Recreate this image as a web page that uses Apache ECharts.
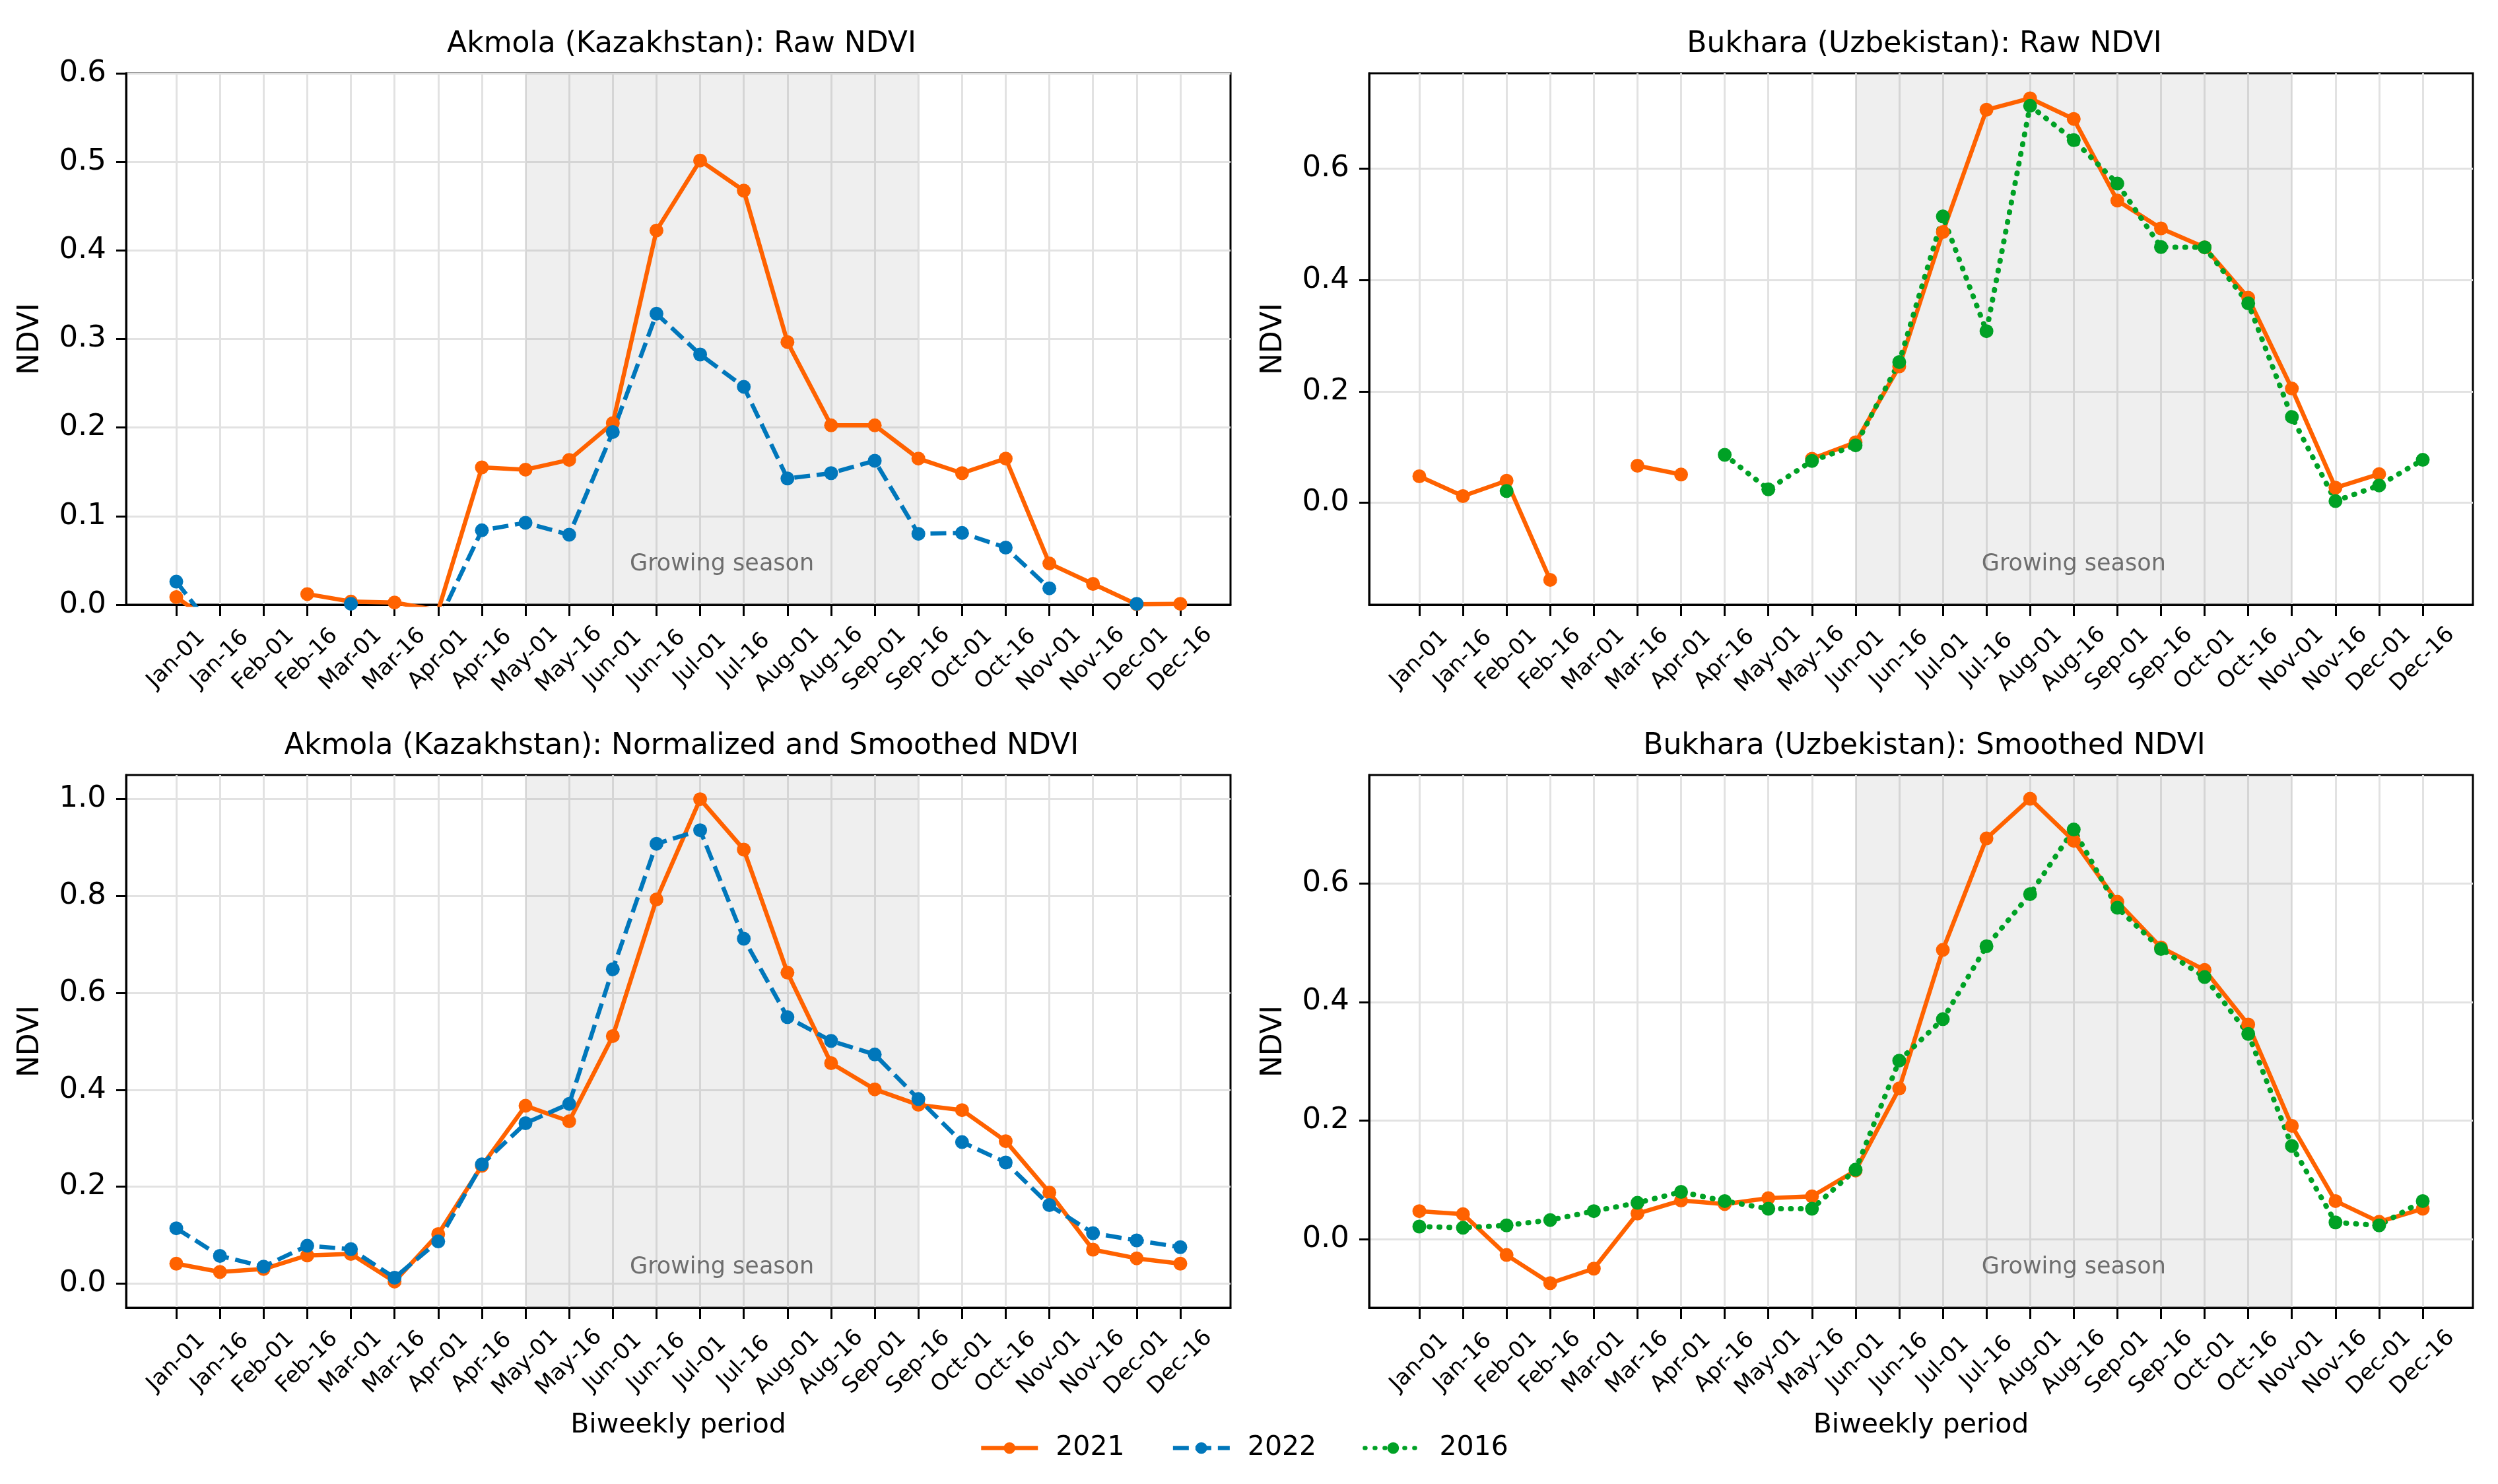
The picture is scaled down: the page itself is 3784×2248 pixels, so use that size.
<!DOCTYPE html>
<html>
<head>
<meta charset="utf-8">
<script src="https://cdn.jsdelivr.net/npm/echarts@6/dist/echarts.min.js"></script>
<style>
  html, body { margin: 0; padding: 0; background: #fff; }
  #main { width: 3784px; height: 2248px; }
</style>
</head>
<body>
<div id="main"></div>
<script>
(function () {
  'use strict';

  // biweekly periods (x axis)
  var periods = ['Jan-01', 'Jan-16', 'Feb-01', 'Feb-16', 'Mar-01', 'Mar-16', 'Apr-01', 'Apr-16',
    'May-01', 'May-16', 'Jun-01', 'Jun-16', 'Jul-01', 'Jul-16', 'Aug-01', 'Aug-16',
    'Sep-01', 'Sep-16', 'Oct-01', 'Oct-16', 'Nov-01', 'Nov-16', 'Dec-01', 'Dec-16'];

  // Akmola raw NDVI
  var akmolaRaw2021 = [0.0085, -0.026, null, 0.012, 0.0035, 0.0025, -0.0065, 0.155, 0.1525, 0.1635, 0.205, 0.4225,
    0.5015, 0.4675, 0.2965, 0.2025, 0.2025, 0.165, 0.1485, 0.165, 0.0465, 0.0235, 0.0005, 0.001];
  var akmolaRaw2022 = [0.026, -0.037, null, null, 0.001, null, -0.019, 0.084, 0.0925, 0.079, 0.195, 0.3285,
    0.2825, 0.246, 0.1425, 0.1485, 0.1625, 0.08, 0.081, 0.0645, 0.0185, null, 0.001, null];

  // Bukhara raw NDVI
  var bukharaRaw2021 = [0.0475, 0.012, 0.0395, -0.1385, null, 0.0665, 0.0507, null, null, 0.079, 0.1085, 0.2447,
    0.486, 0.7055, 0.726, 0.689, 0.5425, 0.4925, 0.4585, 0.368, 0.205, 0.027, 0.0515, null];
  var bukharaRaw2016 = [null, null, 0.021, null, null, null, null, 0.086, 0.024, 0.075, 0.103, 0.2525,
    0.514, 0.308, 0.7125, 0.651, 0.573, 0.459, 0.4585, 0.358, 0.154, 0.003, 0.031, 0.077];

  // Akmola normalized and smoothed
  var akmolaSmooth2021 = [0.041, 0.024, 0.030, 0.058, 0.061, 0.004, 0.102, 0.243, 0.367, 0.335, 0.511, 0.793,
    1.0, 0.896, 0.642, 0.455, 0.401, 0.369, 0.358, 0.294, 0.188, 0.070, 0.052, 0.041];
  var akmolaSmooth2022 = [0.114, 0.057, 0.035, 0.078, 0.071, 0.012, 0.087, 0.246, 0.331, 0.371, 0.649, 0.908,
    0.936, 0.712, 0.550, 0.501, 0.473, 0.381, 0.292, 0.250, 0.162, 0.104, 0.089, 0.075];

  // Bukhara smoothed
  var bukharaSmooth2021 = [0.047, 0.042, -0.027, -0.0745, -0.050, 0.043, 0.065, 0.059, 0.069, 0.072, 0.1155, 0.254,
    0.488, 0.676, 0.743, 0.672, 0.569, 0.492, 0.454, 0.362, 0.191, 0.064, 0.029, 0.051];
  var bukharaSmooth2016 = [0.021, 0.019, 0.023, 0.032, 0.047, 0.061, 0.0795, 0.064, 0.051, 0.051, 0.117, 0.301,
    0.371, 0.494, 0.582, 0.691, 0.559, 0.4895, 0.442, 0.346, 0.157, 0.028, 0.023, 0.064];

  // tick values
  var ticksAkmolaRaw = [0, 0.1, 0.2, 0.3, 0.4, 0.5, 0.6];
  var ticksBukharaRaw = [0, 0.2, 0.4, 0.6];
  var ticksAkmolaSmooth = [0, 0.2, 0.4, 0.6, 0.8, 1.0];
  var ticksBukharaSmooth = [0, 0.2, 0.4, 0.6];

  var titles = ['Akmola (Kazakhstan): Raw NDVI', 'Bukhara (Uzbekistan): Raw NDVI',
    'Akmola (Kazakhstan): Normalized and Smoothed NDVI', 'Bukhara (Uzbekistan): Smoothed NDVI'];
  // growing season (index into periods): Akmola May-01..Sep-16, Bukhara Jun-01..Nov-01
  var seasonAkmola = [8, 17];
  var seasonBukhara = [10, 20];

  var FONT = 'DejaVu Sans';
  var ORANGE = '#ff6200', BLUE = '#0077bb', GREEN = '#00a125';
  var LW = 6.5, SYM = 21;

  var panels = [
    { left: 191, top: 111, width: 1673, height: 805, ymin: 0, ymax: 0.6, ticks: ticksAkmolaRaw, xname: false },
    { left: 2074, top: 111, width: 1672, height: 805, ymin: -0.183, ymax: 0.771, ticks: ticksBukharaRaw, xname: false },
    { left: 191, top: 1174, width: 1673, height: 807, ymin: -0.05, ymax: 1.05, ticks: ticksAkmolaSmooth, xname: true },
    { left: 2074, top: 1174, width: 1672, height: 807, ymin: -0.116, ymax: 0.783, ticks: ticksBukharaSmooth, xname: true }
  ];

  var xTicks = periods.map(function (p, i) { return i; });

  function pairs(values) {
    return values.map(function (v, i) { return [i, v === null ? '-' : v]; });
  }

  var grids = [], xAxes = [], yAxes = [], titleList = [], series = [];

  panels.forEach(function (p, k) {
    grids.push({
      left: p.left, top: p.top, width: p.width, height: p.height,
      show: true, borderColor: '#000', borderWidth: 3, backgroundColor: 'transparent',
      outerBoundsMode: 'none', containLabel: false
    });
    titleList.push({
      text: titles[k],
      left: p.left + p.width / 2,
      top: p.top - 70,
      textAlign: 'center',
      textStyle: { fontFamily: FONT, fontSize: 44, fontWeight: 'normal', color: '#000' }
    });
    xAxes.push({
      type: 'value', gridIndex: k, min: -1.15, max: 24.15,
      name: p.xname ? 'Biweekly period' : '',
      nameLocation: 'middle', nameGap: 158,
      nameTextStyle: { fontFamily: FONT, fontSize: 41, color: '#000' },
      axisLine: { show: true, onZero: false, lineStyle: { color: '#000', width: 3 } },
      axisTick: { show: true, length: 17, customValues: xTicks, lineStyle: { color: '#000', width: 3 } },
      axisLabel: {
        customValues: xTicks, rotate: 45, align: 'center', verticalAlign: 'middle', margin: 83,
        fontFamily: FONT, fontSize: 34, color: '#000',
        formatter: function (v) { return periods[Math.round(v)]; }
      },
      splitLine: { show: true, lineStyle: { color: '#e2e2e2', width: 3 } }
    });
    yAxes.push({
      type: 'value', gridIndex: k, min: p.ymin, max: p.ymax,
      name: 'NDVI', nameLocation: 'middle', nameGap: 122, nameRotate: 90,
      nameTextStyle: { fontFamily: FONT, fontSize: 44, color: '#000' },
      axisLine: { show: true, onZero: false, lineStyle: { color: '#000', width: 3 } },
      axisTick: { show: true, length: 15, customValues: p.ticks, lineStyle: { color: '#000', width: 3 } },
      axisLabel: {
        customValues: p.ticks, margin: 30, fontFamily: FONT, fontSize: 45, color: '#000',
        formatter: function (v) { return (+v).toFixed(1); }
      },
      splitLine: { show: true, lineStyle: { color: '#e2e2e2', width: 3 } }
    });
  });

  function lineSeries(name, values, k, color, dash, width, cap) {
    return {
      name: name, type: 'line', xAxisIndex: k, yAxisIndex: k,
      data: pairs(values),
      symbol: 'circle', symbolSize: SYM, showSymbol: true, showAllSymbol: true,
      connectNulls: false, clip: true, animation: false,
      itemStyle: { color: color },
      lineStyle: { color: color, width: width, type: dash, cap: cap || 'butt' },
      emphasis: { disabled: true }
    };
  }

  function season(range) {
    return {
      silent: true,
      itemStyle: { color: 'rgba(128,128,128,0.13)' },
      label: {
        show: true, position: 'insideBottom', distance: 44,
        formatter: 'Growing season', fontFamily: FONT, fontSize: 35, color: '#6e6e6e'
      },
      data: [[{ xAxis: range[0] }, { xAxis: range[1] }]]
    };
  }

  var solid = 'solid', dashed = [24, 10], dotted = [1, 14];

  var s;
  s = lineSeries('2021', akmolaRaw2021, 0, ORANGE, solid, LW); s.markArea = season(seasonAkmola); series.push(s);
  series.push(lineSeries('2022', akmolaRaw2022, 0, BLUE, dashed, LW));
  s = lineSeries('2021', bukharaRaw2021, 1, ORANGE, solid, LW); s.markArea = season(seasonBukhara); series.push(s);
  series.push(lineSeries('2016', bukharaRaw2016, 1, GREEN, dotted, LW + 1.5, 'round'));
  s = lineSeries('2021', akmolaSmooth2021, 2, ORANGE, solid, LW); s.markArea = season(seasonAkmola); series.push(s);
  series.push(lineSeries('2022', akmolaSmooth2022, 2, BLUE, dashed, LW));
  s = lineSeries('2021', bukharaSmooth2021, 3, ORANGE, solid, LW); s.markArea = season(seasonBukhara); series.push(s);
  series.push(lineSeries('2016', bukharaSmooth2016, 3, GREEN, dotted, LW + 1.5, 'round'));

  var myChart = echarts.init(document.getElementById('main'), null, { renderer: 'canvas' });
  var option = {
    backgroundColor: '#fff',
    animation: false,
    textStyle: { fontFamily: FONT },
    title: titleList,
    grid: grids,
    xAxis: xAxes,
    yAxis: yAxes,
    legend: {
      data: ['2021', '2022', '2016'],
      left: 1478, top: 2168,
      itemWidth: 86, itemHeight: 22, itemGap: 70,
      lineStyle: { width: LW },
      textStyle: { fontFamily: FONT, fontSize: 41, color: '#000', padding: [0, 0, 0, 22] }
    },
    series: series
  };
  myChart.setOption(option);
  window.addEventListener('resize', function () {
    myChart.resize();
  });
})();
</script>
</body>
</html>
